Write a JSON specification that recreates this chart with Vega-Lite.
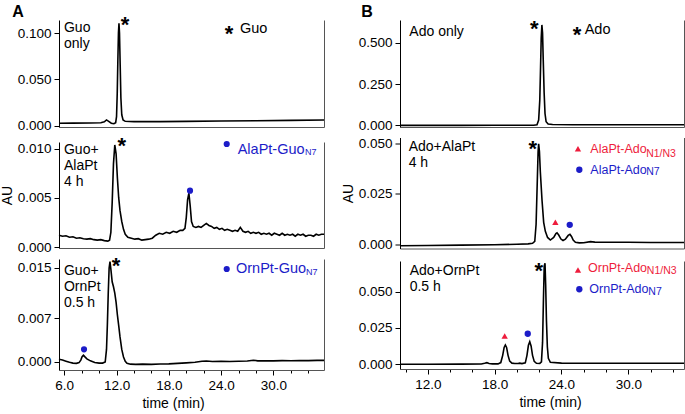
{
 "$schema": "https://vega.github.io/schema/vega-lite/v6.json",
 "padding": {"left": 0, "top": 3, "right": 0, "bottom": 0},
 "background": "white",
 "config": {
  "font": "Liberation Sans",
  "view": {"stroke": null},
  "axis": {"grid": false, "labelFont": "Liberation Sans", "labelFontSize": 13.5, "labelColor": "#000", "titleFont": "Liberation Sans", "titleFontSize": 14, "titleFontWeight": "normal", "titleColor": "#000", "domainColor": "#000", "domainWidth": 1, "tickColor": "#000", "tickSize": 5, "labelPadding": 3},
  "title": {"font": "Liberation Sans", "fontSize": 16, "fontWeight": "bold", "color": "#000", "anchor": "start"}
 },
 "datasets": {
  "a1": [{"t":5.4,"au":0.0030},{"t":7.0,"au":0.0031},{"t":9.0,"au":0.0032},{"t":10.2,"au":0.0034},{"t":10.6,"au":0.0045},{"t":10.85,"au":0.0065},{"t":11.1,"au":0.0050},{"t":11.4,"au":0.0030},{"t":11.7,"au":0.0024},{"t":11.9,"au":0.0035},{"t":12.0,"au":0.010},{"t":12.08,"au":0.035},{"t":12.15,"au":0.070},{"t":12.22,"au":0.100},{"t":12.28,"au":0.1105},{"t":12.34,"au":0.100},{"t":12.42,"au":0.065},{"t":12.5,"au":0.030},{"t":12.6,"au":0.012},{"t":12.75,"au":0.0065},{"t":13.0,"au":0.0050},{"t":14.0,"au":0.0047},{"t":17.0,"au":0.0047},{"t":20.0,"au":0.0050},{"t":24.0,"au":0.0053},{"t":28.0,"au":0.0057},{"t":32.0,"au":0.0060},{"t":35.8,"au":0.0064}],
  "a2": [{"t":5.4,"au":0.00120},{"t":5.8,"au":0.00110},{"t":6.2,"au":0.00115},{"t":6.6,"au":0.00100},{"t":7.0,"au":0.00105},{"t":7.4,"au":0.00090},{"t":7.8,"au":0.00095},{"t":8.2,"au":0.00085},{"t":8.6,"au":0.00080},{"t":9.0,"au":0.00085},{"t":9.4,"au":0.00075},{"t":9.8,"au":0.00070},{"t":10.2,"au":0.00075},{"t":10.6,"au":0.00065},{"t":11.0,"au":0.00060},{"t":11.2,"au":0.00070},{"t":11.35,"au":0.0015},{"t":11.5,"au":0.0045},{"t":11.65,"au":0.0085},{"t":11.8,"au":0.0104},{"t":11.95,"au":0.0095},{"t":12.1,"au":0.0070},{"t":12.25,"au":0.0050},{"t":12.4,"au":0.0037},{"t":12.6,"au":0.0026},{"t":12.8,"au":0.0018},{"t":13.0,"au":0.0013},{"t":13.3,"au":0.0010},{"t":13.7,"au":0.0009},{"t":14.1,"au":0.0008},{"t":14.5,"au":0.00085},{"t":14.9,"au":0.0007},{"t":15.3,"au":0.00075},{"t":15.7,"au":0.0008},{"t":16.1,"au":0.0009},{"t":16.5,"au":0.0012},{"t":16.9,"au":0.0014},{"t":17.3,"au":0.0013},{"t":17.7,"au":0.0015},{"t":18.1,"au":0.0014},{"t":18.5,"au":0.0016},{"t":18.9,"au":0.0015},{"t":19.3,"au":0.0017},{"t":19.6,"au":0.0017},{"t":19.85,"au":0.0019},{"t":20.0,"au":0.0030},{"t":20.15,"au":0.0048},{"t":20.3,"au":0.0055},{"t":20.45,"au":0.0042},{"t":20.6,"au":0.0026},{"t":20.8,"au":0.0021},{"t":21.1,"au":0.0020},{"t":21.4,"au":0.0021},{"t":21.7,"au":0.0020},{"t":22.0,"au":0.0022},{"t":22.3,"au":0.0024},{"t":22.6,"au":0.0022},{"t":22.9,"au":0.0021},{"t":23.2,"au":0.0019},{"t":23.5,"au":0.0020},{"t":23.8,"au":0.0018},{"t":24.1,"au":0.0019},{"t":24.4,"au":0.0017},{"t":24.7,"au":0.0018},{"t":25.0,"au":0.0017},{"t":25.3,"au":0.0016},{"t":25.6,"au":0.0017},{"t":25.9,"au":0.0016},{"t":26.2,"au":0.0020},{"t":26.5,"au":0.0016},{"t":26.8,"au":0.0015},{"t":27.1,"au":0.0016},{"t":27.4,"au":0.0014},{"t":27.7,"au":0.0015},{"t":28.0,"au":0.0014},{"t":28.3,"au":0.0015},{"t":28.6,"au":0.0013},{"t":28.9,"au":0.0014},{"t":29.2,"au":0.0013},{"t":29.5,"au":0.0014},{"t":29.8,"au":0.0012},{"t":30.1,"au":0.0014},{"t":30.4,"au":0.0013},{"t":30.7,"au":0.0012},{"t":31.0,"au":0.0014},{"t":31.3,"au":0.0012},{"t":31.6,"au":0.0013},{"t":31.9,"au":0.0012},{"t":32.2,"au":0.0013},{"t":32.5,"au":0.0011},{"t":32.8,"au":0.0013},{"t":33.1,"au":0.0012},{"t":33.4,"au":0.0013},{"t":33.7,"au":0.0011},{"t":34.0,"au":0.0012},{"t":34.3,"au":0.0012},{"t":34.6,"au":0.0011},{"t":34.9,"au":0.0013},{"t":35.2,"au":0.0012},{"t":35.5,"au":0.0013},{"t":35.8,"au":0.0013}],
  "a3": [{"t":5.4,"au":0.00045},{"t":5.8,"au":0.00030},{"t":6.2,"au":0.00012},{"t":6.6,"au":-0.00005},{"t":7.0,"au":-0.00018},{"t":7.4,"au":-0.00022},{"t":7.7,"au":-0.00010},{"t":7.9,"au":0.00030},{"t":8.05,"au":0.00085},{"t":8.2,"au":0.00108},{"t":8.35,"au":0.00085},{"t":8.6,"au":0.00050},{"t":9.0,"au":0.00018},{"t":9.5,"au":-0.00008},{"t":10.0,"au":-0.00018},{"t":10.4,"au":-0.00018},{"t":10.7,"au":0.0000},{"t":10.85,"au":0.0020},{"t":10.95,"au":0.0060},{"t":11.05,"au":0.0110},{"t":11.15,"au":0.0150},{"t":11.25,"au":0.0160},{"t":11.35,"au":0.0148},{"t":11.5,"au":0.0128},{"t":11.65,"au":0.0120},{"t":11.8,"au":0.0110},{"t":11.95,"au":0.0095},{"t":12.1,"au":0.0075},{"t":12.25,"au":0.0058},{"t":12.4,"au":0.0040},{"t":12.6,"au":0.0020},{"t":12.8,"au":0.0008},{"t":13.0,"au":0.0001},{"t":13.2,"au":-0.0002},{"t":13.6,"au":-0.00035},{"t":14.2,"au":-0.00038},{"t":15.0,"au":-0.00035},{"t":16.0,"au":-0.00038},{"t":17.0,"au":-0.00033},{"t":18.0,"au":-0.00030},{"t":19.0,"au":-0.00022},{"t":20.0,"au":-0.00015},{"t":21.0,"au":-0.00005},{"t":21.8,"au":0.00012},{"t":22.3,"au":0.00015},{"t":23.0,"au":0.00008},{"t":24.0,"au":0.00010},{"t":25.0,"au":0.00008},{"t":26.0,"au":0.00012},{"t":27.0,"au":0.00015},{"t":27.7,"au":0.00028},{"t":28.2,"au":0.00018},{"t":29.0,"au":0.00020},{"t":30.0,"au":0.00018},{"t":31.0,"au":0.00022},{"t":32.0,"au":0.00020},{"t":33.0,"au":0.00024},{"t":34.0,"au":0.00022},{"t":35.0,"au":0.00026},{"t":35.8,"au":0.00025}],
  "b1": [{"t":9.5,"au":-0.002},{"t":12,"au":-0.002},{"t":15,"au":-0.0018},{"t":18,"au":-0.0015},{"t":20,"au":-0.0012},{"t":21.5,"au":-0.001},{"t":21.8,"au":0.002},{"t":21.95,"au":0.03},{"t":22.05,"au":0.15},{"t":22.12,"au":0.35},{"t":22.18,"au":0.53},{"t":22.24,"au":0.61},{"t":22.3,"au":0.56},{"t":22.36,"au":0.40},{"t":22.44,"au":0.20},{"t":22.52,"au":0.07},{"t":22.62,"au":0.02},{"t":22.8,"au":0.006},{"t":23.2,"au":0.003},{"t":25,"au":0.002},{"t":28,"au":0.0015},{"t":32,"au":0.0015},{"t":35,"au":0.0015}],
  "b2": [{"t":9.5,"au":-0.0006},{"t":12,"au":-0.0005},{"t":15,"au":-0.0003},{"t":18,"au":-0.0001},{"t":20,"au":0.0001},{"t":21.0,"au":0.0003},{"t":21.4,"au":0.0006},{"t":21.6,"au":0.0015},{"t":21.72,"au":0.010},{"t":21.82,"au":0.030},{"t":21.9,"au":0.046},{"t":21.95,"au":0.0498},{"t":22.02,"au":0.046},{"t":22.1,"au":0.036},{"t":22.25,"au":0.022},{"t":22.4,"au":0.011},{"t":22.55,"au":0.0065},{"t":22.75,"au":0.0035},{"t":23.0,"au":0.0022},{"t":23.3,"au":0.0035},{"t":23.5,"au":0.0054},{"t":23.6,"au":0.0058},{"t":23.75,"au":0.0047},{"t":23.95,"au":0.0027},{"t":24.14,"au":0.0020},{"t":24.35,"au":0.0026},{"t":24.6,"au":0.0045},{"t":24.76,"au":0.0050},{"t":24.9,"au":0.0040},{"t":25.05,"au":0.0022},{"t":25.25,"au":0.0011},{"t":25.6,"au":0.0008},{"t":26.0,"au":0.0009},{"t":26.6,"au":0.0014},{"t":27.0,"au":0.0012},{"t":28,"au":0.0011},{"t":30,"au":0.0011},{"t":32,"au":0.0010},{"t":35,"au":0.0010}],
  "b3": [{"t":9.5,"au":-0.0002},{"t":12,"au":-0.0002},{"t":15,"au":-0.0001},{"t":16.8,"au":0.0000},{"t":17.1,"au":0.0005},{"t":17.3,"au":0.0009},{"t":17.5,"au":0.0004},{"t":17.8,"au":0.0001},{"t":18.3,"au":0.0001},{"t":18.55,"au":0.0010},{"t":18.72,"au":0.0060},{"t":18.85,"au":0.0115},{"t":18.96,"au":0.0132},{"t":19.07,"au":0.0115},{"t":19.2,"au":0.0060},{"t":19.35,"au":0.0020},{"t":19.55,"au":0.0006},{"t":19.8,"au":0.0003},{"t":20.1,"au":0.0004},{"t":20.25,"au":0.0006},{"t":20.45,"au":0.0003},{"t":20.75,"au":0.0008},{"t":20.9,"au":0.0060},{"t":21.03,"au":0.0130},{"t":21.15,"au":0.0155},{"t":21.27,"au":0.0125},{"t":21.4,"au":0.0060},{"t":21.55,"au":0.0018},{"t":21.75,"au":0.0005},{"t":22.05,"au":0.0004},{"t":22.2,"au":0.0015},{"t":22.3,"au":0.015},{"t":22.38,"au":0.045},{"t":22.45,"au":0.068},{"t":22.52,"au":0.070},{"t":22.58,"au":0.055},{"t":22.65,"au":0.030},{"t":22.73,"au":0.012},{"t":22.82,"au":0.004},{"t":23.0,"au":0.0012},{"t":24,"au":0.0006},{"t":27,"au":0.0005},{"t":30,"au":0.0005},{"t":35,"au":0.0005}],
  "notes": [
   {"panel":"a1","kind":"label","t":5.97,"au":0.1129,"text":"Guo\nonly","product":"none"},
   {"panel":"a1","kind":"star","t":12.97,"au":0.1013,"text":"*","product":"none"},
   {"panel":"a1","kind":"star","t":24.9,"au":0.0917,"text":"*","product":"none"},
   {"panel":"a1","kind":"legend","t":26.16,"au":0.1005,"text":"Guo","product":"none"},
   {"panel":"a2","kind":"label","t":5.97,"au":0.0106,"text":"Guo+\nAlaPt\n4 h","product":"none"},
   {"panel":"a2","kind":"star","t":12.59,"au":0.0096,"text":"*","product":"none"},
   {"panel":"a2","kind":"mark","t":20.43,"au":0.00574,"text":"","product":"N7"},
   {"panel":"a2","kind":"mark","t":24.64,"au":0.0105,"text":"","product":"N7"},
   {"panel":"a2","kind":"legend","t":25.9,"au":0.0095,"text":"AlaPt-Guo","product":"N7"},
   {"panel":"a2","kind":"sub","t":33.62,"au":0.0094,"text":"N7","product":"N7"},
   {"panel":"a3","kind":"label","t":5.97,"au":0.0156,"text":"Guo+\nOrnPt\n0.5 h","product":"none"},
   {"panel":"a3","kind":"star","t":11.94,"au":0.01412,"text":"*","product":"none"},
   {"panel":"a3","kind":"mark","t":8.27,"au":0.00202,"text":"","product":"N7"},
   {"panel":"a3","kind":"mark","t":24.64,"au":0.01483,"text":"","product":"N7"},
   {"panel":"a3","kind":"legend","t":25.7,"au":0.01412,"text":"OrnPt-Guo","product":"N7"},
   {"panel":"a3","kind":"sub","t":33.73,"au":0.0139,"text":"N7","product":"N7"},
   {"panel":"b1","kind":"label","t":10.34,"au":0.607,"text":"Ado only","product":"none"},
   {"panel":"b1","kind":"star","t":21.55,"au":0.544,"text":"*","product":"none"},
   {"panel":"b1","kind":"star","t":25.4,"au":0.503,"text":"*","product":"none"},
   {"panel":"b1","kind":"legend","t":26.08,"au":0.5537,"text":"Ado","product":"none"},
   {"panel":"b2","kind":"label","t":10.28,"au":0.0515,"text":"Ado+AlaPt\n4 h","product":"none"},
   {"panel":"b2","kind":"star","t":21.42,"au":0.044,"text":"*","product":"none"},
   {"panel":"b2","kind":"mark","t":23.45,"au":0.011,"text":"","product":"N1N3"},
   {"panel":"b2","kind":"mark","t":24.74,"au":0.00975,"text":"","product":"N7"},
   {"panel":"b2","kind":"mark","t":25.48,"au":0.0474,"text":"","product":"N1N3"},
   {"panel":"b2","kind":"legend","t":26.59,"au":0.0452,"text":"AlaPt-Ado","product":"N1N3"},
   {"panel":"b2","kind":"sub","t":31.6,"au":0.0432,"text":"N1/N3","product":"N1N3"},
   {"panel":"b2","kind":"mark","t":25.6,"au":0.037,"text":"","product":"N7"},
   {"panel":"b2","kind":"legend","t":26.59,"au":0.035,"text":"AlaPt-Ado","product":"N7"},
   {"panel":"b2","kind":"sub","t":31.6,"au":0.0342,"text":"N7","product":"N7"},
   {"panel":"b3","kind":"label","t":10.37,"au":0.0692,"text":"Ado+OrnPt\n0.5 h","product":"none"},
   {"panel":"b3","kind":"star","t":21.95,"au":0.0594,"text":"*","product":"none"},
   {"panel":"b3","kind":"mark","t":18.9,"au":0.0194,"text":"","product":"N1N3"},
   {"panel":"b3","kind":"mark","t":20.97,"au":0.021,"text":"","product":"N7"},
   {"panel":"b3","kind":"mark","t":25.48,"au":0.0653,"text":"","product":"N1N3"},
   {"panel":"b3","kind":"legend","t":26.38,"au":0.0639,"text":"OrnPt-Ado","product":"N1N3"},
   {"panel":"b3","kind":"sub","t":31.66,"au":0.0623,"text":"N1/N3","product":"N1N3"},
   {"panel":"b3","kind":"mark","t":25.6,"au":0.0519,"text":"","product":"N7"},
   {"panel":"b3","kind":"legend","t":26.5,"au":0.0491,"text":"OrnPt-Ado","product":"N7"},
   {"panel":"b3","kind":"sub","t":31.8,"au":0.0477,"text":"N7","product":"N7"}
  ]
 },
 "hconcat": [
  {
   "title": {"text": "A", "anchor": "start", "dx": 12, "offset": -5.8},
   "spacing": 1,
   "vconcat": [
    {
     "width": 265, "height": 107,
     "encoding": {
      "x": {"field":"t","type":"quantitative","scale":{"domain":[5.4,35.8],"nice":false,"zero":false},"axis":{"labels":false,"ticks":false,"title":null,"domainColor":"#555"}},
      "y": {"field":"au","type":"quantitative","scale":{"domain":[-0.0011,0.114],"nice":false,"zero":false},"axis":null}
     },
     "layer": [
      {"data":{"name":"a1"},"mark":{"type":"line","color":"#000","strokeWidth":1.6},"encoding":{"y":{"field":"au","type":"quantitative","scale":{"domain":[-0.0011,0.114],"nice":false,"zero":false},"axis":{"values":[0,0.05,0.1],"format":".3f","title":null}}}},
      {"data":{"name":"a1"},"mark":{"type":"line","opacity":0},"encoding":{"y":{"field":"au","type":"quantitative","scale":{"domain":[-0.0011,0.114],"nice":false,"zero":false},"axis":{"orient":"right","labels":false,"ticks":false,"title":null,"domainColor":"#555"}}}},
      {"data":{"name":"notes"},"transform":[{"filter":"datum.panel==='a1' && datum.kind==='label'"}],"mark":{"type":"text","align":"left","baseline":"top","fontSize":14,"lineBreak":"\n","lineHeight":16,"color":"#000"},"encoding":{"text":{"field":"text"}}},
      {"data":{"name":"notes"},"transform":[{"filter":"datum.panel==='a1' && datum.kind==='star'"}],"mark":{"type":"text","align":"center","baseline":"alphabetic","fontSize":22,"fontWeight":"bold","color":"#000"},"encoding":{"text":{"field":"text"}}},
      {"data":{"name":"notes"},"transform":[{"filter":"datum.panel==='a1' && datum.kind==='legend'"}],"mark":{"type":"text","align":"left","baseline":"alphabetic","fontSize":14.5,"color":"#000"},"encoding":{"text":{"field":"text"}}}
     ],
     "resolve": {"axis": {"y": "independent"}}
    },
    {
     "spacing": 1,
     "vconcat": [
      {
       "width": 265, "height": 106,
       "encoding": {
        "x": {"field":"t","type":"quantitative","scale":{"domain":[5.4,35.8],"nice":false,"zero":false},"axis":{"labels":false,"ticks":false,"title":null,"domainColor":"#555"}},
        "y": {"field":"au","type":"quantitative","scale":{"domain":[-0.0001,0.0107],"nice":false,"zero":false},"axis":null}
       },
       "layer": [
        {"data":{"name":"a2"},"mark":{"type":"line","color":"#000","strokeWidth":1.6},"encoding":{"y":{"field":"au","type":"quantitative","scale":{"domain":[-0.0001,0.0107],"nice":false,"zero":false},"axis":{"values":[0,0.005,0.01],"format":".3f","title":"AU","titlePadding":3}}}},
        {"data":{"name":"a2"},"mark":{"type":"line","opacity":0},"encoding":{"y":{"field":"au","type":"quantitative","scale":{"domain":[-0.0001,0.0107],"nice":false,"zero":false},"axis":{"orient":"right","labels":false,"ticks":false,"title":null,"domainColor":"#555"}}}},
        {"data":{"name":"notes"},"transform":[{"filter":"datum.panel==='a2' && datum.kind==='label'"}],"mark":{"type":"text","align":"left","baseline":"top","fontSize":14,"lineBreak":"\n","lineHeight":16,"color":"#000"},"encoding":{"text":{"field":"text"}}},
        {"data":{"name":"notes"},"transform":[{"filter":"datum.panel==='a2' && datum.kind==='star'"}],"mark":{"type":"text","align":"center","baseline":"alphabetic","fontSize":22,"fontWeight":"bold","color":"#000"},"encoding":{"text":{"field":"text"}}},
        {"data":{"name":"notes"},"transform":[{"filter":"datum.panel==='a2' && datum.kind==='mark'"}],"mark":{"type":"point","filled":true,"size":38,"opacity":1},"encoding":{"color":{"field":"product","type":"nominal","scale":{"domain":["none","N7","N1N3"],"range":["#000000","#1c1cc8","#ee1c3c"]},"legend":null},"shape":{"field":"product","type":"nominal","scale":{"domain":["N7","N1N3"],"range":["circle","triangle-up"]},"legend":null}}},
        {"data":{"name":"notes"},"transform":[{"filter":"datum.panel==='a2' && datum.kind==='legend'"}],"mark":{"type":"text","align":"left","baseline":"alphabetic","fontSize":14.5},"encoding":{"text":{"field":"text"},"color":{"field":"product","type":"nominal","scale":{"domain":["none","N7","N1N3"],"range":["#000000","#1c1cc8","#ee1c3c"]},"legend":null}}},
        {"data":{"name":"notes"},"transform":[{"filter":"datum.panel==='a2' && datum.kind==='sub'"}],"mark":{"type":"text","align":"left","baseline":"alphabetic","fontSize":9},"encoding":{"text":{"field":"text"},"color":{"field":"product","type":"nominal","scale":{"domain":["none","N7","N1N3"],"range":["#000000","#1c1cc8","#ee1c3c"]},"legend":null}}}
       ],
       "resolve": {"axis": {"y": "independent"}}
      },
      {
       "width": 265, "height": 111,
       "encoding": {
        "x": {"field":"t","type":"quantitative","scale":{"domain":[5.4,35.8],"nice":false,"zero":false},"axis":{"values":[6,8,10,12,14,16,18,20,22,24,26,28,30,32,34],"labelExpr":"datum.value % 6 === 0 ? format(datum.value, '.1f') : ''","tickSize":{"condition":{"test":"datum.value % 6 === 0","value":5},"value":3},"domainColor":"#555","title":"time (min)","titlePadding":5,"titleX":114}},
        "y": {"field":"au","type":"quantitative","scale":{"domain":[-0.00128,0.01643],"nice":false,"zero":false},"axis":null}
       },
       "layer": [
        {"data":{"name":"a3"},"mark":{"type":"line","color":"#000","strokeWidth":1.6},"encoding":{"y":{"field":"au","type":"quantitative","scale":{"domain":[-0.00128,0.01643],"nice":false,"zero":false},"axis":{"values":[0,0.007,0.015],"format":".3f","title":null}}}},
        {"data":{"name":"a3"},"mark":{"type":"line","opacity":0},"encoding":{"y":{"field":"au","type":"quantitative","scale":{"domain":[-0.00128,0.01643],"nice":false,"zero":false},"axis":{"orient":"right","labels":false,"ticks":false,"title":null,"domainColor":"#555"}}}},
        {"data":{"name":"notes"},"transform":[{"filter":"datum.panel==='a3' && datum.kind==='label'"}],"mark":{"type":"text","align":"left","baseline":"top","fontSize":14,"lineBreak":"\n","lineHeight":16,"color":"#000"},"encoding":{"text":{"field":"text"}}},
        {"data":{"name":"notes"},"transform":[{"filter":"datum.panel==='a3' && datum.kind==='star'"}],"mark":{"type":"text","align":"center","baseline":"alphabetic","fontSize":22,"fontWeight":"bold","color":"#000"},"encoding":{"text":{"field":"text"}}},
        {"data":{"name":"notes"},"transform":[{"filter":"datum.panel==='a3' && datum.kind==='mark'"}],"mark":{"type":"point","filled":true,"size":38,"opacity":1},"encoding":{"color":{"field":"product","type":"nominal","scale":{"domain":["none","N7","N1N3"],"range":["#000000","#1c1cc8","#ee1c3c"]},"legend":null},"shape":{"field":"product","type":"nominal","scale":{"domain":["N7","N1N3"],"range":["circle","triangle-up"]},"legend":null}}},
        {"data":{"name":"notes"},"transform":[{"filter":"datum.panel==='a3' && datum.kind==='legend'"}],"mark":{"type":"text","align":"left","baseline":"alphabetic","fontSize":14.5},"encoding":{"text":{"field":"text"},"color":{"field":"product","type":"nominal","scale":{"domain":["none","N7","N1N3"],"range":["#000000","#1c1cc8","#ee1c3c"]},"legend":null}}},
        {"data":{"name":"notes"},"transform":[{"filter":"datum.panel==='a3' && datum.kind==='sub'"}],"mark":{"type":"text","align":"left","baseline":"alphabetic","fontSize":9},"encoding":{"text":{"field":"text"},"color":{"field":"product","type":"nominal","scale":{"domain":["none","N7","N1N3"],"range":["#000000","#1c1cc8","#ee1c3c"]},"legend":null}}}
       ],
       "resolve": {"axis": {"y": "independent"}}
      }
     ]
    }
   ]
  },
  {
   "title": {"text": "B", "anchor": "start", "dx": 20, "offset": -1.8},
   "spacing": 3.5,
   "vconcat": [
    {
     "width": 284, "height": 107,
     "encoding": {
      "x": {"field":"t","type":"quantitative","scale":{"domain":[9.5,35],"nice":false,"zero":false},"axis":{"labels":false,"ticks":false,"title":null,"domainColor":"#555"}},
      "y": {"field":"au","type":"quantitative","scale":{"domain":[-0.012,0.64],"nice":false,"zero":false},"axis":null}
     },
     "layer": [
      {"data":{"name":"b1"},"mark":{"type":"line","color":"#000","strokeWidth":1.6},"encoding":{"y":{"field":"au","type":"quantitative","scale":{"domain":[-0.012,0.64],"nice":false,"zero":false},"axis":{"values":[0,0.25,0.5],"format":".3f","title":null}}}},
      {"data":{"name":"b1"},"mark":{"type":"line","opacity":0},"encoding":{"y":{"field":"au","type":"quantitative","scale":{"domain":[-0.012,0.64],"nice":false,"zero":false},"axis":{"orient":"right","labels":false,"ticks":false,"title":null,"domainColor":"#555"}}}},
      {"data":{"name":"notes"},"transform":[{"filter":"datum.panel==='b1' && datum.kind==='label'"}],"mark":{"type":"text","align":"left","baseline":"top","fontSize":14,"lineBreak":"\n","lineHeight":16,"color":"#000"},"encoding":{"text":{"field":"text"}}},
      {"data":{"name":"notes"},"transform":[{"filter":"datum.panel==='b1' && datum.kind==='star'"}],"mark":{"type":"text","align":"center","baseline":"alphabetic","fontSize":22,"fontWeight":"bold","color":"#000"},"encoding":{"text":{"field":"text"}}},
      {"data":{"name":"notes"},"transform":[{"filter":"datum.panel==='b1' && datum.kind==='legend'"}],"mark":{"type":"text","align":"left","baseline":"alphabetic","fontSize":14.5,"color":"#000"},"encoding":{"text":{"field":"text"}}}
     ],
     "resolve": {"axis": {"y": "independent"}}
    },
    {
     "spacing": 7.5,
     "vconcat": [
      {
       "width": 284, "height": 111,
       "encoding": {
        "x": {"field":"t","type":"quantitative","scale":{"domain":[9.5,35],"nice":false,"zero":false},"axis":{"labels":false,"ticks":false,"title":null,"domainColor":"#555"}},
        "y": {"field":"au","type":"quantitative","scale":{"domain":[-0.00198,0.05297],"nice":false,"zero":false},"axis":null}
       },
       "layer": [
        {"data":{"name":"b2"},"mark":{"type":"line","color":"#000","strokeWidth":1.6},"encoding":{"y":{"field":"au","type":"quantitative","scale":{"domain":[-0.00198,0.05297],"nice":false,"zero":false},"axis":{"values":[0,0.025,0.05],"format":".3f","title":"AU","titlePadding":3}}}},
        {"data":{"name":"b2"},"mark":{"type":"line","opacity":0},"encoding":{"y":{"field":"au","type":"quantitative","scale":{"domain":[-0.00198,0.05297],"nice":false,"zero":false},"axis":{"orient":"right","labels":false,"ticks":false,"title":null,"domainColor":"#555"}}}},
        {"data":{"name":"notes"},"transform":[{"filter":"datum.panel==='b2' && datum.kind==='label'"}],"mark":{"type":"text","align":"left","baseline":"top","fontSize":14,"lineBreak":"\n","lineHeight":16,"color":"#000"},"encoding":{"text":{"field":"text"}}},
        {"data":{"name":"notes"},"transform":[{"filter":"datum.panel==='b2' && datum.kind==='star'"}],"mark":{"type":"text","align":"center","baseline":"alphabetic","fontSize":22,"fontWeight":"bold","color":"#000"},"encoding":{"text":{"field":"text"}}},
        {"data":{"name":"notes"},"transform":[{"filter":"datum.panel==='b2' && datum.kind==='mark'"}],"mark":{"type":"point","filled":true,"size":40,"opacity":1},"encoding":{"color":{"field":"product","type":"nominal","scale":{"domain":["none","N7","N1N3"],"range":["#000000","#1c1cc8","#ee1c3c"]},"legend":null},"shape":{"field":"product","type":"nominal","scale":{"domain":["N7","N1N3"],"range":["circle","triangle-up"]},"legend":null}}},
        {"data":{"name":"notes"},"transform":[{"filter":"datum.panel==='b2' && datum.kind==='legend'"}],"mark":{"type":"text","align":"left","baseline":"alphabetic","fontSize":12.5},"encoding":{"text":{"field":"text"},"color":{"field":"product","type":"nominal","scale":{"domain":["none","N7","N1N3"],"range":["#000000","#1c1cc8","#ee1c3c"]},"legend":null}}},
        {"data":{"name":"notes"},"transform":[{"filter":"datum.panel==='b2' && datum.kind==='sub'"}],"mark":{"type":"text","align":"left","baseline":"alphabetic","fontSize":10.5},"encoding":{"text":{"field":"text"},"color":{"field":"product","type":"nominal","scale":{"domain":["none","N7","N1N3"],"range":["#000000","#1c1cc8","#ee1c3c"]},"legend":null}}}
       ],
       "resolve": {"axis": {"y": "independent"}}
      },
      {
       "width": 284, "height": 108,
       "encoding": {
        "x": {"field":"t","type":"quantitative","scale":{"domain":[9.5,35],"nice":false,"zero":false},"axis":{"values":[10,12,14,16,18,20,22,24,26,28,30,32,34],"labelExpr":"datum.value % 6 === 0 ? format(datum.value, '.1f') : ''","tickSize":{"condition":{"test":"datum.value % 6 === 0","value":5},"value":3},"domainColor":"#555","title":"time (min)","titlePadding":5,"titleX":150}},
        "y": {"field":"au","type":"quantitative","scale":{"domain":[-0.00347,0.0715],"nice":false,"zero":false},"axis":null}
       },
       "layer": [
        {"data":{"name":"b3"},"mark":{"type":"line","color":"#000","strokeWidth":1.6},"encoding":{"y":{"field":"au","type":"quantitative","scale":{"domain":[-0.00347,0.0715],"nice":false,"zero":false},"axis":{"values":[0,0.025,0.05],"format":".3f","title":null}}}},
        {"data":{"name":"b3"},"mark":{"type":"line","opacity":0},"encoding":{"y":{"field":"au","type":"quantitative","scale":{"domain":[-0.00347,0.0715],"nice":false,"zero":false},"axis":{"orient":"right","labels":false,"ticks":false,"title":null,"domainColor":"#555"}}}},
        {"data":{"name":"notes"},"transform":[{"filter":"datum.panel==='b3' && datum.kind==='label'"}],"mark":{"type":"text","align":"left","baseline":"top","fontSize":14,"lineBreak":"\n","lineHeight":16,"color":"#000"},"encoding":{"text":{"field":"text"}}},
        {"data":{"name":"notes"},"transform":[{"filter":"datum.panel==='b3' && datum.kind==='star'"}],"mark":{"type":"text","align":"center","baseline":"alphabetic","fontSize":22,"fontWeight":"bold","color":"#000"},"encoding":{"text":{"field":"text"}}},
        {"data":{"name":"notes"},"transform":[{"filter":"datum.panel==='b3' && datum.kind==='mark'"}],"mark":{"type":"point","filled":true,"size":40,"opacity":1},"encoding":{"color":{"field":"product","type":"nominal","scale":{"domain":["none","N7","N1N3"],"range":["#000000","#1c1cc8","#ee1c3c"]},"legend":null},"shape":{"field":"product","type":"nominal","scale":{"domain":["N7","N1N3"],"range":["circle","triangle-up"]},"legend":null}}},
        {"data":{"name":"notes"},"transform":[{"filter":"datum.panel==='b3' && datum.kind==='legend'"}],"mark":{"type":"text","align":"left","baseline":"alphabetic","fontSize":12.5},"encoding":{"text":{"field":"text"},"color":{"field":"product","type":"nominal","scale":{"domain":["none","N7","N1N3"],"range":["#000000","#1c1cc8","#ee1c3c"]},"legend":null}}},
        {"data":{"name":"notes"},"transform":[{"filter":"datum.panel==='b3' && datum.kind==='sub'"}],"mark":{"type":"text","align":"left","baseline":"alphabetic","fontSize":10.5},"encoding":{"text":{"field":"text"},"color":{"field":"product","type":"nominal","scale":{"domain":["none","N7","N1N3"],"range":["#000000","#1c1cc8","#ee1c3c"]},"legend":null}}}
       ],
       "resolve": {"axis": {"y": "independent"}}
      }
     ]
    }
   ]
  }
 ],
 "spacing": 13
}
